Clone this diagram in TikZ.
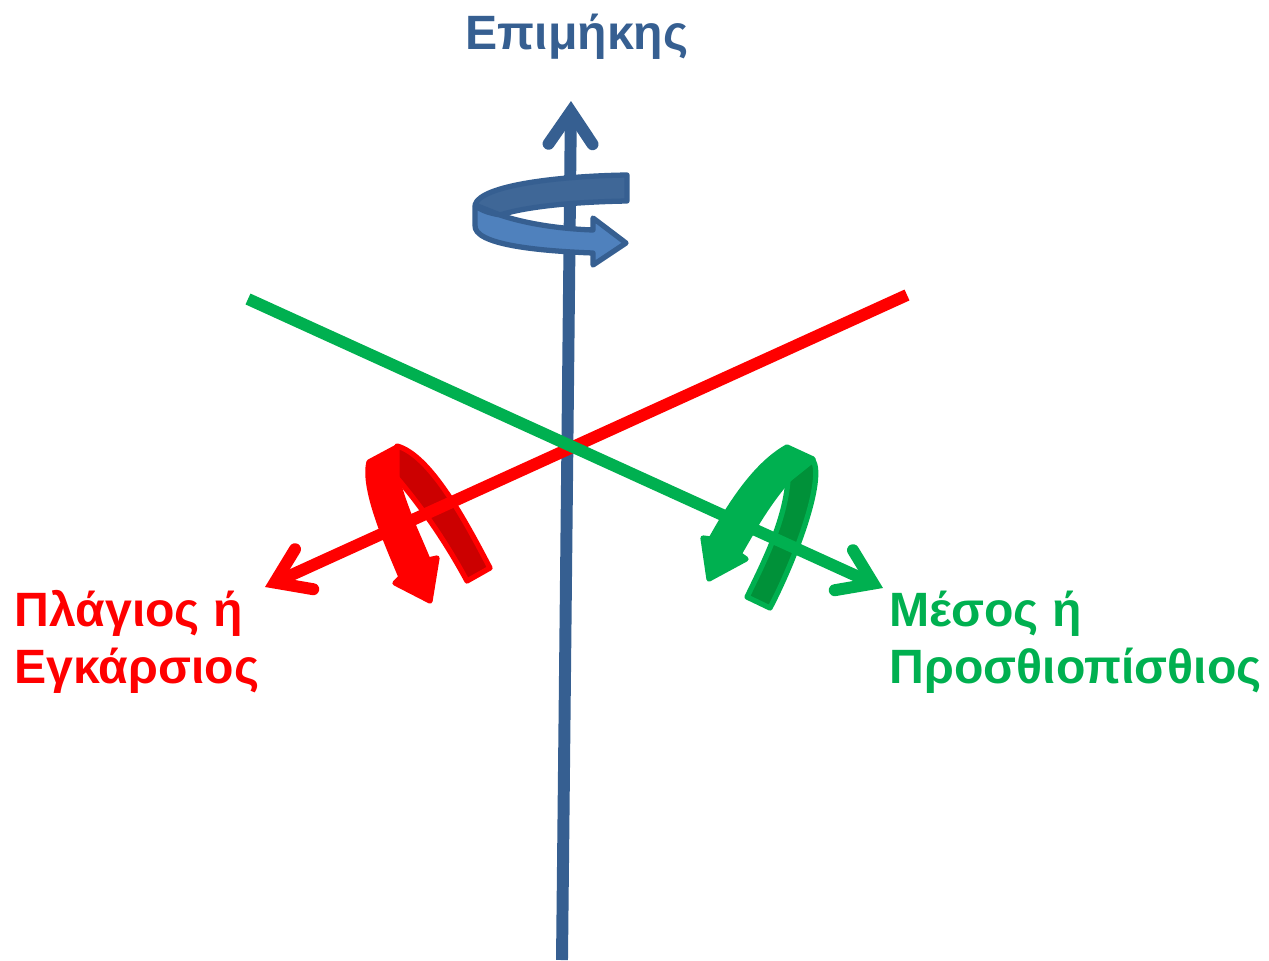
\documentclass[tikz,border=0pt]{standalone}
\usepackage{fontspec}
\setmainfont{Liberation Sans}
\usepackage{xcolor}
\usetikzlibrary{arrows.meta}
\definecolor{axblue}{HTML}{365F91}
\definecolor{bandblue}{HTML}{4F81BD}
\definecolor{backblue}{HTML}{3F6797}
\definecolor{axred}{HTML}{FF0000}
\definecolor{backred}{HTML}{CC0000}
\definecolor{axgreen}{HTML}{00B050}
\definecolor{backgreen}{HTML}{009139}

\begin{document}
\begin{tikzpicture}[x=0.01cm,y=-0.01cm,
  axisline/.style = {line width=3.4pt, -{Straight Barb[line cap=round,line join=miter,length=9.2pt,width=12.5pt]}},
  band/.style = {line width=1.5pt, line join=round},
  lbl/.style = {font=\bfseries\fontsize{13.7}{16.2}\selectfont, inner sep=0pt, align=left},
]
\useasboundingbox (0,0) rectangle (1269,960);

%% -- axis ends --
\coordinate (bluebot) at (562,960);
\coordinate (bluetop) at (571,101);
\coordinate (redstart) at (907,295);
\coordinate (redtip) at (265,587);
\coordinate (greenstart) at (248,299);
\coordinate (greentip) at (883,588);

%% -- back of the turns --
\draw[axisline, draw=axblue] (bluebot) -- (bluetop);
\draw[band, draw=axred, fill=backred] (397,446) .. controls (430,455) and (465,520) .. (490,568)
  -- (467,581) .. controls (445,540) and (420,505) .. (397,478) -- cycle;
\draw[band, draw=axgreen, fill=backgreen] (813,460) .. controls (825,480) and (795,560) .. (770,608)
  -- (747,597) .. controls (765,560) and (785,520) .. (788,480) -- cycle;
\draw[band, draw=axblue, fill=backblue] (627,175) -- (627,201)
  .. controls (570,202) and (525,207) .. (500,215) -- (475,205)
  .. controls (480,185) and (560,176) .. (627,175) -- cycle;

%% -- axes --
\draw[axisline, draw=axred] (redstart) -- (redtip);
\draw[axisline, draw=axgreen] (greenstart) -- (greentip);

%% -- front of the turns --
\draw[band, draw=axblue, fill=bandblue] (475,206) .. controls (485,212) and (490,213) .. (500,215)
  .. controls (530,225) and (565,229) .. (593,230) -- (593,218) -- (626,243) -- (593,265) -- (593,253)
  .. controls (540,251) and (473,245) .. (475,225) -- cycle;
\draw[band, draw=axred, fill=axred] (369,462) -- (397,447) -- (393,463)
  .. controls (395,470) and (396,474) .. (397,478)
  .. controls (405,510) and (418,535) .. (428,560) -- (437,558) -- (430,601) -- (395,583) -- (401,577)
  .. controls (390,550) and (362,490) .. (369,462) -- cycle;
\draw[band, draw=axgreen, fill=axgreen] (787,447) -- (813,459) -- (795,472) -- (788,480)
  .. controls (775,495) and (765,510) .. (757,523) -- (739,554) -- (746,559) -- (709,579) -- (703,538) -- (711,539)
  .. controls (730,505) and (755,465) .. (787,447) -- cycle;

%% -- labels --
\node[lbl, text=axblue, anchor=base] (longlbl) at (577,49) {Επιμήκης};
\node[lbl, text=axred, anchor=base west] (sidelbl) at (14,683) {Πλάγιος ή\\Εγκάρσιος};
\node[lbl, text=axgreen, anchor=base west] (midlbl) at (889,683) {Μέσος ή\\Προσθιοπίσθιος};

\end{tikzpicture}
\end{document}
